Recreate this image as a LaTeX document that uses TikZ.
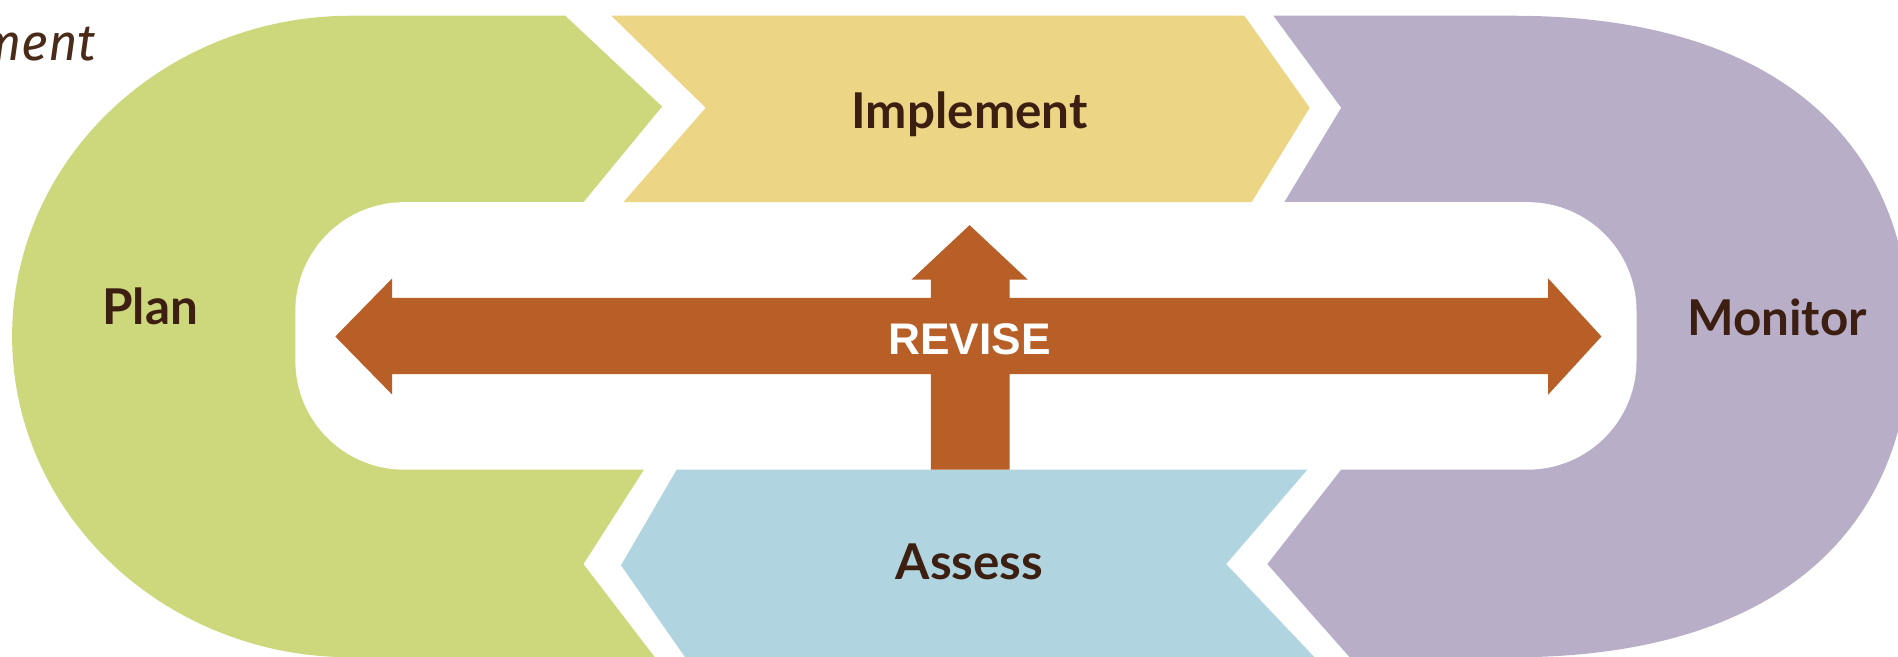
\documentclass[tikz,border=0pt]{standalone}
\usepackage{fontspec}
\newfontfamily\labfont{Lato}
\newfontfamily\mentfont{Fira Sans}
\newfontfamily\revfont{Liberation Sans}
\definecolor{cgreen}{HTML}{CDD87D}
\definecolor{cyellow}{HTML}{EDD586}
\definecolor{cpurple}{HTML}{B9AEC8}
\definecolor{cblue}{HTML}{B1D5E0}
\definecolor{corange}{HTML}{B85E27}
\definecolor{cbrown}{HTML}{3D1F12}
\definecolor{ctop}{HTML}{4A2A18}
\begin{document}
\begin{tikzpicture}[x=0.01cm,y=-0.01cm,
  lab/.style={font=\labfont\bfseries\fontsize{11.6}{13}\selectfont, text=cbrown, inner sep=0pt, anchor=base},
  revlab/.style={font=\revfont\bfseries\fontsize{10.4}{12}\selectfont, text=white, inner sep=0pt, anchor=base},
  toplab/.style={font=\mentfont\itshape\fontsize{12}{14}\selectfont, text=ctop, inner sep=0pt, anchor=base east}]
\useasboundingbox (0,0) rectangle (1568,542);
% Plan (green)
\fill[cgreen] (290,13) -- (467,13) -- (547,88) -- (482,167) -- (532,388) -- (482,466) -- (541,543) -- (290,543)
  .. controls (135,543) and (10,424) .. (10,278) .. controls (10,132) and (135,13) .. (290,13) -- cycle;
% Monitor (purple)
\fill[cpurple] (1052,13) -- (1250,13) .. controls (1465,13) and (1578,115) .. (1578,278)
  .. controls (1578,440) and (1465,543) .. (1250,543) -- (1115,543) -- (1047,466) -- (1108,388)
  -- (1061,167) -- (1108,89) -- cycle;
% central track
\fill[white, rounded corners=0.9cm] (244,167) rectangle (1352,388);
% Implement (yellow)
\fill[cyellow] (505,13) -- (1028,13) -- (1082,89) -- (1034,167) -- (515,167) -- (583,89) -- cycle;
% Assess (blue)
\fill[cblue] (559,388) -- (1080,388) -- (1013,466) -- (1086,543) -- (566,543) -- (513,467) -- cycle;
% REVISE arrow
\fill[corange] (277,278) -- (324,230) -- (324,246) -- (769,246) -- (769,231) -- (753,231) -- (801,186)
  -- (849,231) -- (834,231) -- (834,246) -- (1279,246) -- (1279,230) -- (1323,278) -- (1279,326)
  -- (1279,309) -- (834,309) -- (834,388) -- (769,388) -- (769,309) -- (324,309) -- (324,326) -- cycle;
% texts
\node[toplab] (ment) at (80,50) {ment};
\node[lab] (plan) at (124,268) {Plan};
\node[lab] (impl) at (801,106) {Implement};
\node[lab] (assess) at (801,479) {Assess};
\node[lab] (monitor) at (1468,277) {Monitor};
\node[revlab] (revise) at (801,293) {REVISE};
\end{tikzpicture}
\end{document}
